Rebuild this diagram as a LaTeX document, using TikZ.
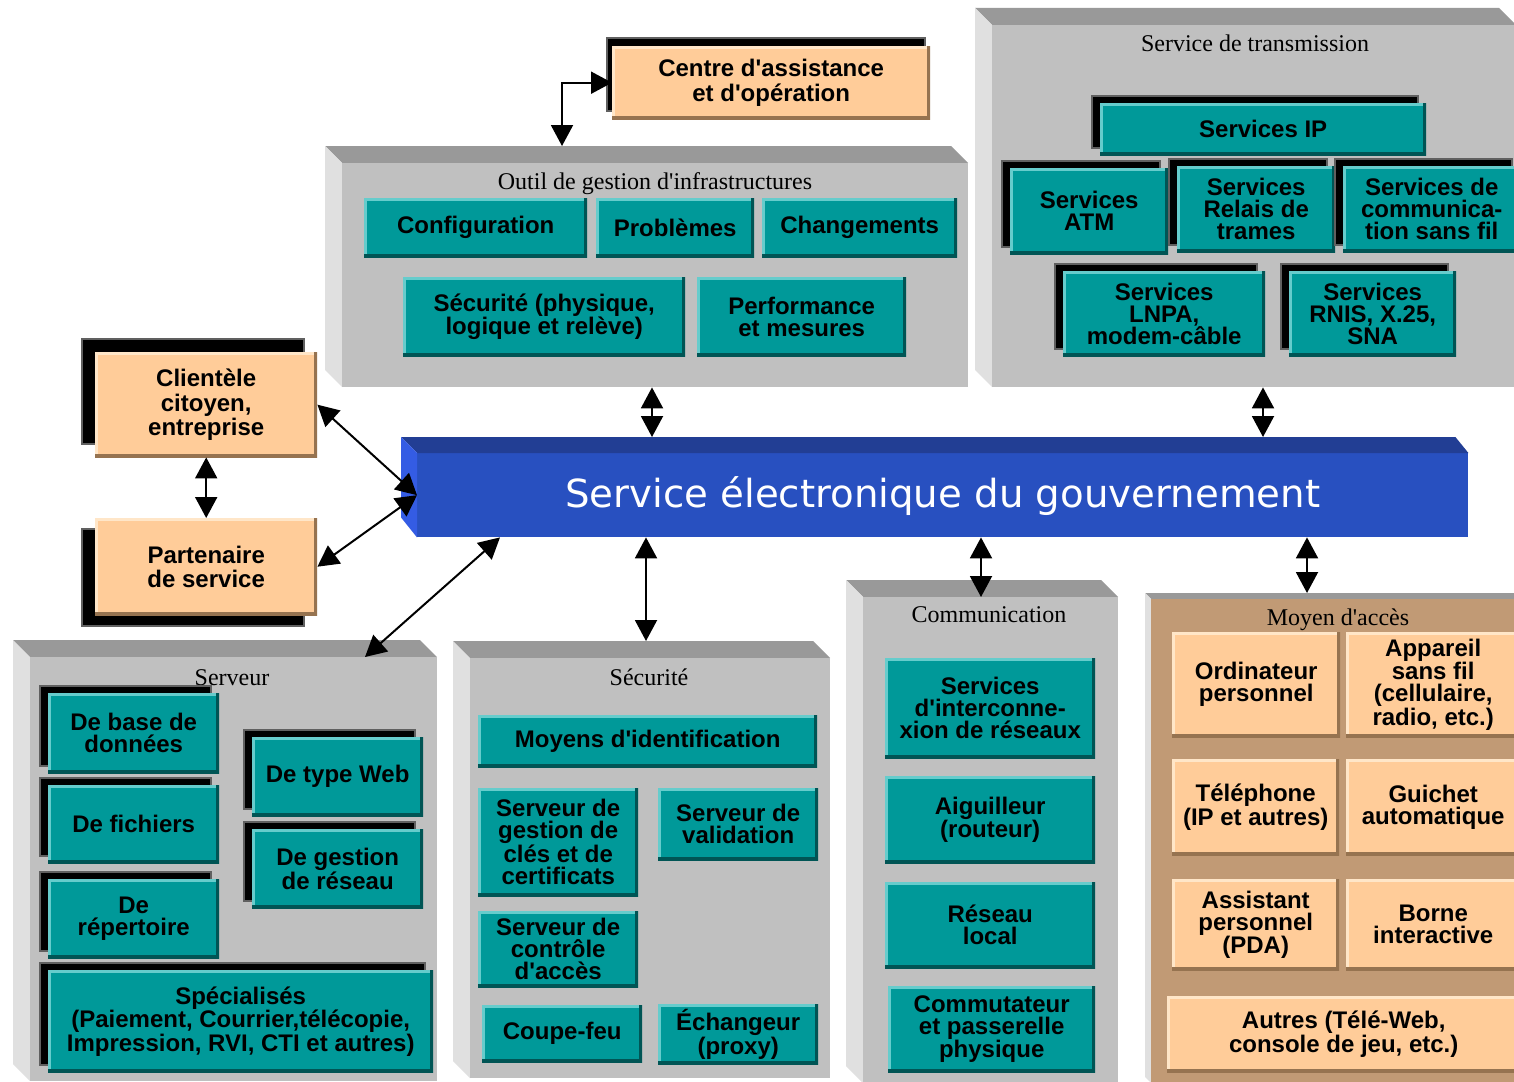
\documentclass[tikz,border=0pt]{standalone}
\usepackage{fontspec}
\usepackage{graphicx}
\newfontfamily\boxfont{Liberation Sans}
\newfontfamily\serf{Liberation Serif}
\newfontfamily\titlefont{DejaVu Sans}
\usetikzlibrary{arrows.meta,calc}

\definecolor{tealF}{RGB}{0,153,153}
\definecolor{tealL}{RGB}{102,204,204}
\definecolor{tealD}{RGB}{0,85,85}
\definecolor{peachF}{RGB}{255,204,153}
\definecolor{peachL}{RGB}{255,230,200}
\definecolor{peachD}{RGB}{150,115,80}
\definecolor{panF}{RGB}{192,192,192}
\definecolor{panT}{RGB}{153,153,153}
\definecolor{panL}{RGB}{224,224,224}
\definecolor{tanF}{RGB}{193,154,117}
\definecolor{bluF}{RGB}{40,80,192}
\definecolor{bluT}{RGB}{34,62,148}
\definecolor{bluL}{RGB}{52,92,228}
\definecolor{shgray}{RGB}{96,96,96}

\tikzset{
  bevel/.style 2 args={path picture={
    \draw[line width=6pt,#1] (path picture bounding box.south west) -- (path picture bounding box.north west) -- (path picture bounding box.north east);
    \draw[line width=7pt,#2] (path picture bounding box.north east) -- (path picture bounding box.south east) -- (path picture bounding box.south west);}},
  boxtext/.style={rectangle, inner sep=0pt, align=center, text=black,
    font=\boxfont\bfseries\fontsize{24}{22}\selectfont},
  tbox/.style={boxtext, fill=tealF, bevel={tealL}{tealD}},
  pbox/.style={boxtext, fill=peachF, bevel={peachL}{peachD}},
  lbox/.style={pbox, font=\boxfont\bfseries\fontsize{24}{24.5}\selectfont},
  shd/.style 2 args={preaction={fill=black, draw=shgray, line width=2pt,
    transform canvas={shift={(#1,#2)}}}},
  tshd/.style={shd={-8pt}{7pt}},
  panelface/.style={rectangle, inner sep=0pt, draw=none},
  helper/.style={rectangle, inner sep=0pt, draw=none, fill=none},
  ptitle/.style={inner sep=0pt, anchor=base, font=\serf\fontsize{24}{26}\selectfont},
  conn/.style={{Triangle[length=21pt,width=22pt]}-{Triangle[length=21pt,width=22pt]}, line width=2pt, black},
}

% box: style, name, x1, y1, x2, y2, text
\newcommand\bx[7]{\node[#1, anchor=north west, minimum width={#5pt-#3pt}, minimum height={#6pt-#4pt}] (#2) at (#3,#4) {#7};}
% panel: name, x0, y0, x2, y2, bevel, face colour
\newcommand\pnl[7]{%
  \fill[panT] (#2,#3) -- ({#4-#6},#3) -- (#4,{#3+#6}) -- ({#2+#6},{#3+#6}) -- cycle;
  \fill[panL] (#2,#3) -- ({#2+#6},{#3+#6}) -- ({#2+#6},#5) -- (#2,{#5-#6}) -- cycle;
  \node[panelface, fill=#7, anchor=north west, minimum width={#4pt-#2pt-#6pt}, minimum height={#5pt-#3pt-#6pt}] (#1) at ({#2+#6},{#3+#6}) {};
  \node[helper, anchor=north west, minimum width={#4pt-#2pt}, minimum height={#5pt-#3pt}] (#1-out) at (#2,#3) {};
}

\begin{document}
\begin{tikzpicture}[x=1pt,y=-1pt]
\path[use as bounding box, fill=white] (0,0) rectangle (1514,1081);
\begin{scope}
\clip (0,0) rectangle (1514,1081);

% panels
\pnl{outil}{325}{146}{968}{387}{17}{panF}
\pnl{trans}{975}{8}{1516}{387}{17}{panF}
\pnl{serv}{13}{640}{437}{1081}{17}{panF}
\pnl{sec}{453}{641}{830}{1078}{17}{panF}
\pnl{comm}{846}{580}{1118}{1083}{17}{panF}
\pnl{moy}{1145}{593}{1520}{1083}{6}{tanF}

\node[ptitle] (outil-t) at (655,189) {Outil de gestion d'infrastructures};
\node[ptitle] (trans-t) at (1255,52) {Service de transmission};
\node[ptitle] (serv-t) at (232,685) {Serveur};
\node[ptitle] (sec-t) at (649,685) {Sécurité};
\node[ptitle] (comm-t) at (989,622) {Communication};
\node[ptitle] (moy-t) at (1338,625) {Moyen d'accès};

% outil de gestion
\bx{tbox}{cfg}{364}{198}{587}{257}{Configuration}
\bx{tbox}{prob}{596}{198}{754}{257}{Problèmes}
\bx{tbox}{chg}{762}{198}{957}{257}{Changements}
\bx{tbox}{secp}{403}{277}{685}{356}{Sécurité (physique,\\logique et relève)}
\bx{tbox}{perf}{697}{277}{906}{356}{Performance\\et mesures}

% transmission
\bx{tbox,tshd}{ip}{1100}{103}{1426}{155}{Services IP}
\bx{tbox,tshd}{atm}{1010}{168}{1168}{254}{Services\\ATM}
\bx{tbox,tshd}{relais}{1177}{166}{1335}{252}{Services\\Relais de\\trames}
\bx{tbox,tshd}{sansfil}{1343}{166}{1520}{252}{Services de\\communica-\\tion sans fil}
\bx{tbox,tshd}{lnpa}{1063}{271}{1265}{356}{Services\\LNPA,\\modem-câble}
\bx{tbox,tshd}{rnis}{1289}{271}{1456}{356}{Services\\RNIS, X.25,\\SNA}

% serveur
\bx{tbox,tshd}{bdd}{48}{693}{219}{773}{De base de\\données}
\bx{tbox,tshd}{web}{252}{737}{423}{816}{De type Web}
\bx{tbox,tshd}{fich}{48}{785}{219}{863}{De fichiers}
\bx{tbox,tshd}{gres}{252}{829}{423}{908}{De gestion\\de réseau}
\bx{tbox,tshd}{rep}{48}{879}{219}{958}{De\\répertoire}
\bx{tbox,tshd}{spec}{48}{970}{433}{1072}{Spécialisés\\(Paiement, Courrier,télécopie,\\Impression, RVI, CTI et autres)}

% securite
\bx{tbox}{ident}{478}{715}{817}{767}{Moyens d'identification}
\bx{tbox}{cles}{478}{788}{638}{896}{Serveur de\\gestion de\\clés et de\\certificats}
\bx{tbox}{valid}{658}{788}{818}{860}{Serveur de\\validation}
\bx{tbox}{ctrl}{478}{911}{638}{987}{Serveur de\\contrôle\\d'accès}
\bx{tbox}{feu}{482}{1005}{642}{1062}{Coupe-feu}
\bx{tbox}{proxy}{658}{1004}{818}{1064}{Échangeur\\(proxy)}

% communication
\bx{tbox}{inter}{885}{658}{1095}{758}{Services\\d'interconne-\\xion de réseaux}
\bx{tbox}{aig}{885}{776}{1095}{863}{Aiguilleur\\(routeur)}
\bx{tbox}{lan}{885}{882}{1095}{968}{Réseau\\local}
\bx{tbox}{commut}{888}{986}{1095}{1072}{Commutateur\\et passerelle\\physique}

% moyen d'acces
\bx{pbox}{pc}{1172}{632}{1340}{737}{Ordinateur\\personnel}
\bx{pbox}{sfil}{1346}{632}{1520}{737}{Appareil\\sans fil\\(cellulaire,\\radio, etc.)}
\bx{pbox}{tel}{1172}{759}{1339}{855}{Téléphone\\(IP et autres)}
\bx{pbox}{gui}{1346}{759}{1520}{855}{Guichet\\automatique}
\bx{pbox}{pda}{1172}{879}{1339}{970}{Assistant\\personnel\\(PDA)}
\bx{pbox}{borne}{1346}{879}{1520}{970}{Borne\\interactive}
\bx{pbox}{autres}{1167}{996}{1520}{1072}{Autres (Télé-Web,\\console de jeu, etc.)}

% left peach boxes
\bx{lbox,shd={-5pt}{8pt}}{centre}{612}{46}{930}{119}{Centre d'assistance\\et d'opération}
\bx{lbox,shd={-13pt}{13pt}}{cli}{95}{352}{317}{457}{Clientèle\\citoyen,\\entreprise}
\bx{lbox,shd={-13pt}{-11pt}}{part}{95}{518}{317}{615}{Partenaire\\de service}

% central bar
\node[panelface, fill=bluF, anchor=north west, minimum width=1051pt, minimum height=84pt] (bar) at (417,453) {};
\fill[bluT] ($(bar.north west)+(-16,-16)$) -- ($(bar.north east)+(-13,-16)$) -- (bar.north east) -- (bar.north west) -- cycle;
\fill[bluL] ($(bar.north west)+(-16,-16)$) -- (bar.north west) -- (bar.south west) -- ($(bar.south west)+(-16,-20)$) -- cycle;
\node[helper, anchor=north west, minimum width=1067pt, minimum height=100pt] (bar-out) at (401,437) {};
\node[inner sep=0pt, anchor=base, text=white, font=\titlefont\fontsize{40}{44}\selectfont] (bar-t) at ($(bar.center)+(0,12)$) {\resizebox{755pt}{!}{Service électronique du gouvernement}};

% connectors
\draw[conn] (562,0 |- outil-out.north) -- (562,0 |- centre.west) -- (centre.west);
\draw[conn] (652,0 |- outil.south) -- (652,0 |- bar-out.north);
\draw[conn] (1263,0 |- trans.south) -- (1263,0 |- bar-out.north);
\draw[conn] (cli.east) -- (bar.west);
\draw[conn] (part.east) -- (bar.west);
\draw[conn] (cli.south) -- (part.north);
\draw[conn] (365,0 |- serv.north) -- (500,0 |- bar.south);
\draw[conn] (646,0 |- sec-out.north) -- (646,0 |- bar.south);
\draw[conn] (981,0 |- comm.north) -- (981,0 |- bar.south);
\draw[conn] (1307,0 |- moy-out.north) -- (1307,0 |- bar.south);
\end{scope}
\end{tikzpicture}
\end{document}
